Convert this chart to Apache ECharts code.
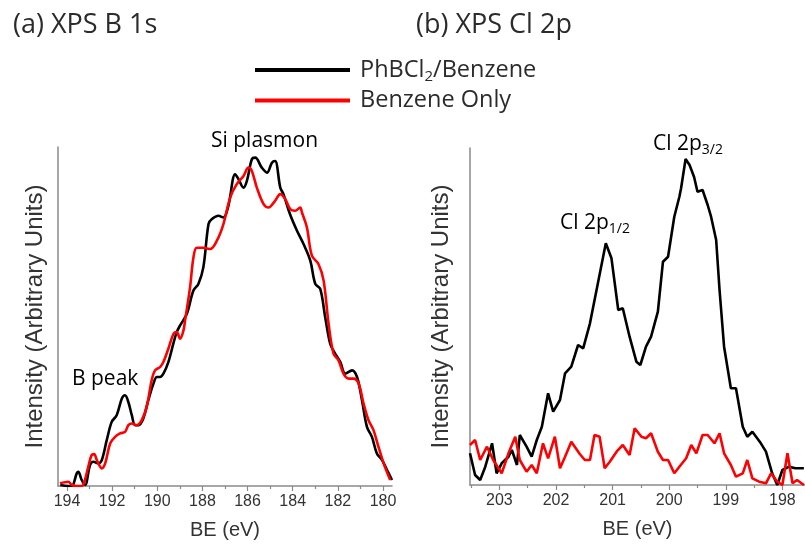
<!DOCTYPE html>
<html><head><meta charset="utf-8">
<script src="https://cdn.jsdelivr.net/npm/echarts@6/dist/echarts.min.js"></script>
<style>html,body{margin:0;padding:0;background:#fff}#c{width:805px;height:547px}</style>
</head><body><div id="c"></div>
<script>
// ---- Data: [BE (eV), intensity (arb.)] ----
const bBlack = [[194.3,1],[193.95,0],[193.79,0],[193.57,12.7],[193.50,14.3],[193.35,6],[193.20,1],[192.98,21],[192.83,24.3],[192.61,22.7],[192.46,26],[192.24,46],[192.02,64.3],[191.80,71],[191.57,87.7],[191.43,91],[191.28,84],[191.13,71],[190.98,61],[190.83,61],[190.62,67.7],[190.40,86],[190.17,102.7],[190.02,109.3],[189.88,109.3],[189.73,112.7],[189.51,124.3],[189.29,142.7],[189.14,154.3],[188.99,161],[188.69,172.7],[188.40,196],[188.18,202.7],[187.96,219.3],[187.73,262.7],[187.58,267.7],[187.29,271],[187.07,269.3],[186.85,281],[186.55,312.7],[186.40,307.7],[186.18,299.3],[186.03,306],[185.81,327.7],[185.66,329.3],[185.37,319.3],[185.14,314.3],[184.92,324.3],[184.78,326],[184.55,299.3],[184.41,292.7],[184.11,272],[183.81,256],[183.52,242.7],[183.22,226],[183.00,202.7],[182.78,197.7],[182.56,169.3],[182.34,142.7],[182.12,132.7],[181.89,124.3],[181.67,112.7],[181.37,116],[181.15,109.3],[180.93,86],[180.71,59.3],[180.49,49.3],[180.27,32.7],[180.04,26],[179.82,16],[179.60,6]];
const bRed = [[194.31,2.7],[193.94,4.3],[193.79,1],[193.6,0],[193.4,0],[193.28,1],[193.05,20],[192.91,31],[192.8,32],[192.68,26],[192.46,17.7],[192.31,22.7],[192.09,42.7],[191.87,49.3],[191.65,52.7],[191.43,54.3],[191.28,61],[191.13,62.7],[190.91,61],[190.69,66],[190.47,79.3],[190.25,106],[190.10,116],[189.88,119.3],[189.73,124.3],[189.51,137.7],[189.28,152.7],[189.14,154.3],[188.99,147.7],[188.84,156],[188.77,166],[188.55,199],[188.40,229],[188.25,239],[187.95,239],[187.66,237.7],[187.36,246],[187.07,262.7],[186.77,289.3],[186.48,302.7],[186.18,311],[185.96,319.3],[185.81,316],[185.59,299.3],[185.29,282.7],[185.07,279.3],[184.78,286],[184.55,292.7],[184.33,287.7],[184.11,277.7],[183.89,276],[183.67,279.3],[183.59,274.3],[183.37,259.3],[183.15,231],[182.86,222.7],[182.63,206],[182.41,162.7],[182.19,132.7],[181.97,126],[181.75,112.7],[181.52,107.7],[181.30,107.7],[181.08,102.7],[180.86,82.7],[180.64,66],[180.42,56],[180.20,39.3],[179.97,22.7],[179.68,6]];
const clBlack = [[203.52,31.7],[203.43,10],[203.34,5],[203.25,18.3],[203.13,41.7],[203.05,11.7],[202.96,21.7],[202.84,28.3],[202.78,35],[202.69,20],[202.64,50],[202.52,38.3],[202.43,28.3],[202.34,45],[202.25,58.3],[202.14,91.7],[202.05,73.3],[201.93,85],[201.84,111.7],[201.73,118.3],[201.61,140],[201.52,136.7],[201.40,161.7],[201.26,201.7],[201.12,241.7],[201.02,226.7],[200.90,175],[200.82,176.7],[200.70,148.3],[200.58,123.3],[200.51,120],[200.41,138.3],[200.32,148.3],[200.20,173.3],[200.11,223.3],[200.02,228.3],[199.91,268.3],[199.82,288.3],[199.79,296.7],[199.71,326],[199.64,320],[199.56,308],[199.50,293.3],[199.41,295],[199.32,280],[199.26,268.3],[199.17,245],[199.11,195],[199.03,138.3],[198.91,96.7],[198.82,96.7],[198.70,58.3],[198.62,48.3],[198.53,53.3],[198.38,41.7],[198.29,33.3],[198.18,11.7],[198.09,0],[198.00,15],[197.88,18.3],[197.77,16.7],[197.62,16.7]];
const clRed = [[203.52,40],[203.43,45],[203.34,25],[203.22,38.3],[203.11,25],[202.96,11.7],[202.84,31.7],[202.72,48.3],[202.64,25],[202.52,13.3],[202.43,20],[202.34,11.7],[202.23,41.7],[202.14,26.7],[202.02,48.3],[201.93,16.7],[201.84,28.3],[201.73,43.3],[201.58,31],[201.49,25],[201.40,25],[201.32,50],[201.23,48.3],[201.14,16.7],[201.05,23.3],[200.93,33.3],[200.82,40],[200.70,30],[200.61,56.7],[200.49,48.3],[200.41,46.7],[200.32,51.7],[200.20,33.3],[200.11,25],[200.02,25],[199.91,11.7],[199.82,18.3],[199.70,26.7],[199.61,40],[199.52,31.7],[199.41,50],[199.32,50],[199.20,41.7],[199.11,51.7],[199.03,31.7],[198.91,20],[198.82,8.3],[198.70,11.7],[198.62,25],[198.53,6.7],[198.41,3.3],[198.29,1.7],[198.20,11.7],[198.09,3.3],[198.00,0],[197.91,31.7],[197.82,1.7],[197.74,5],[197.62,0]];
const bMajorTicks = [180,182,184,186,188,190,192,194];
const bMinorTicks = [181,183,185,187,189,191,193];
const clMajorTicks = [198,199,200,201,202,203];
const clMinorTicks = [198.5,199.5,200.5,201.5,202.5,203.5];
const seriesNames = ['PhBCl2/Benzene','Benzene Only'];
const panelTitles = ['(a) XPS B 1s','(b) XPS Cl 2p'];

const AX = '#8a8a8a', TXT = '#2b2b2b';
const SANS = 'Open Sans', ARIAL = 'Liberation Sans';

function majorX(grid, min, max, ticks) {
  return { gridIndex: grid, type: 'value', min: min, max: max, inverse: true, position: 'bottom',
    axisLine: { show: true, onZero: false, lineStyle: { color: AX, width: 1.5 } },
    axisTick: { show: true, customValues: ticks, length: 5, lineStyle: { color: AX, width: 1.2 } },
    axisLabel: { show: true, customValues: ticks, margin: 8, fontSize: 16, color: '#333', fontFamily: ARIAL },
    splitLine: { show: false },
    name: 'BE (eV)', nameLocation: 'middle', nameGap: 34,
    nameTextStyle: { fontSize: 20, color: '#333', fontFamily: ARIAL } };
}
function minorX(grid, min, max, ticks) {
  return { gridIndex: grid, type: 'value', min: min, max: max, inverse: true, position: 'bottom', offset: 0,
    axisLine: { show: false }, splitLine: { show: false }, axisLabel: { show: false },
    axisTick: { show: true, customValues: ticks, length: 3, lineStyle: { color: AX, width: 1.2 } } };
}
function yAx(grid, max, gap) {
  return { gridIndex: grid, type: 'value', min: 0, max: max,
    axisLine: { show: true, lineStyle: { color: AX, width: 1.5 } },
    axisTick: { show: false }, axisLabel: { show: false }, splitLine: { show: false },
    name: 'Intensity (Arbitrary Units)', nameLocation: 'middle', nameGap: gap,
    nameTextStyle: { fontSize: 24, color: '#333', fontFamily: ARIAL } };
}
function line(name, data, xi, yi, color, smooth) {
  return { name: name, type: 'line', xAxisIndex: xi, yAxisIndex: yi, data: data,
    showSymbol: false, symbol: 'none', smooth: smooth, animation: false,
    lineStyle: { color: color, width: 2.6 }, itemStyle: { color: color } };
}
const rich = {
  a: { fontSize: 21, lineHeight: 26, fontFamily: SANS, color: TXT },
  s: { fontSize: 14, lineHeight: 14, fontFamily: SANS, color: TXT, verticalAlign: 'bottom' }
};

const chart = echarts.init(document.getElementById('c'), null, { renderer: 'canvas' });
chart.setOption({
  backgroundColor: '#fff',
  animation: false,
  title: [
    { text: panelTitles[0], left: 8, top: 7, textStyle: { fontSize: 27, fontWeight: 'normal', color: TXT, fontFamily: SANS } },
    { text: panelTitles[1], left: 411, top: 7, textStyle: { fontSize: 27, fontWeight: 'normal', color: TXT, fontFamily: SANS } }
  ],
  legend: {
    orient: 'vertical', left: 250, top: 53, itemWidth: 95, itemHeight: 4, itemGap: 4,
    icon: 'rect', selectedMode: false,
    data: seriesNames,
    formatter: (n) => n === seriesNames[0] ? '{a|PhBCl}{s|2}{a|/Benzene}' : '{a|' + n + '}',
    textStyle: { padding: [0, 0, 0, 5], rich: {
      a: { fontSize: 23.5, lineHeight: 29, fontFamily: SANS, color: TXT },
      s: { fontSize: 15, lineHeight: 15, fontFamily: SANS, color: TXT, verticalAlign: 'bottom' } } }
  },
  grid: [
    { left: 58, top: 147, width: 334, height: 339 },
    { left: 470, top: 148, right: 0, height: 337 }
  ],
  xAxis: [
    majorX(0, 179.6, 194.4, bMajorTicks), minorX(0, 179.6, 194.4, bMinorTicks),
    majorX(1, 197.6, 203.52, clMajorTicks), minorX(1, 197.6, 203.52, clMinorTicks)
  ],
  yAxis: [ yAx(0, 340, 11), yAx(1, 337, 17) ],
  series: [
    line(seriesNames[0], bBlack, 0, 0, '#000000', 0.35),
    line(seriesNames[1], bRed, 0, 0, '#ff0000', 0.35),
    line(seriesNames[0], clBlack, 2, 1, '#000000', false),
    line(seriesNames[1], clRed, 2, 1, '#ff0000', false)
  ],
  graphic: [
    { type: 'text', left: 211, top: 131, style: { text: '{a|Si plasmon}', rich: rich } },
    { type: 'text', left: 72, top: 369, style: { text: '{a|B peak}', rich: rich } },
    { type: 'text', left: 653, top: 134, style: { text: '{a|Cl 2p}{s|3/2}', rich: rich } },
    { type: 'text', left: 560, top: 213, style: { text: '{a|Cl 2p}{s|1/2}', rich: rich } }
  ]
});
</script>
</body></html>
